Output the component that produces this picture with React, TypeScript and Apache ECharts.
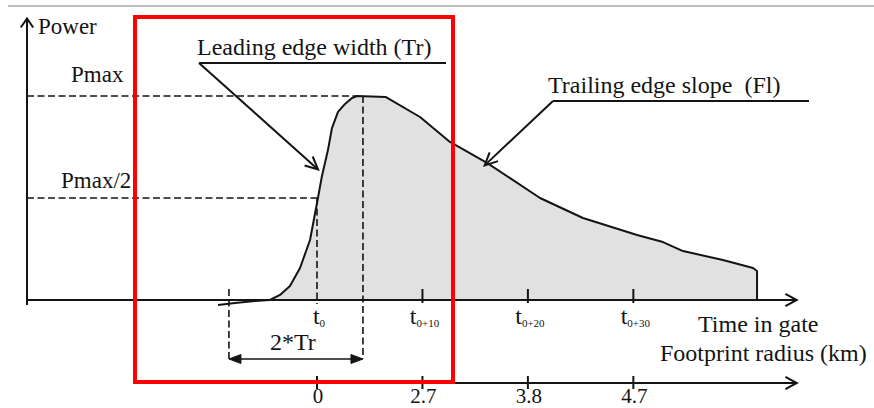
import React, { useEffect, useRef } from "react";
import * as echarts from "echarts";

// ---- data (time in gate units: t0 = 0, t0+10 = 10 ...; power normalised to Pmax = 1)
const timeTicks = [0, 10, 20, 30];
const timeSubscripts = ["0", "0+10", "0+20", "0+30"];
const radiusLabels = ["0", "2.7", "3.8", "4.7"];
const leadInT = [-9.39, -7.78, -5.88, -4.46];
const leadInP = [-0.025, -0.015, -0.005, 0];
const pulseT = [-4.46, -3.51, -2.56, -1.61, -0.66, 0.09, 0.47, 1.04, 1.42, 1.99, 2.66, 3.32, 3.79, 6.54, 9.77, 12.61, 16.12, 21.15, 25.22, 30.35, 32.81, 34.71, 38.5, 41.35, 41.73, 41.73];
const pulseP = [0, 0.025, 0.069, 0.157, 0.294, 0.5, 0.608, 0.735, 0.843, 0.922, 0.961, 0.99, 1.0, 0.995, 0.897, 0.775, 0.672, 0.5, 0.402, 0.319, 0.284, 0.24, 0.196, 0.157, 0.142, 0];
const pmax = 1;
const pmaxHalf = 0.5;
const peakStartT = 3.79;
const trRightT = 4.36;
const trLeftT = -8.35;
const xMin = -27.5;
const xMax = 45.5;
const yMin = -0.5;
const yMax = 1.38;

const FONT = '"Liberation Serif", "Times New Roman", serif';
const INK = "#141414";
const DASH = [7, 3.5];

export default function App() {
  const ref = useRef<HTMLDivElement>(null);
  useEffect(() => {
    document.body.style.margin = "0";
    const chart = echarts.init(ref.current!, null, { renderer: "svg" });
    chart.setOption({
      animation: false,
      grid: { left: 27, right: 77.2, top: 18.48, bottom: 6 },
      xAxis: { type: "value", min: xMin, max: xMax, show: false },
      yAxis: { type: "value", min: yMin, max: yMax, show: false },
      series: [
        {
          type: "line",
          data: leadInT.map((t, i) => [t, leadInP[i]]),
          showSymbol: false,
          lineStyle: { color: INK, width: 2 },
          z: 3,
        },
        {
          type: "line",
          data: pulseT.map((t, i) => [t, pulseP[i]]),
          showSymbol: false,
          lineStyle: { color: INK, width: 2 },
          areaStyle: { color: "#e1e1e1", opacity: 1 },
          z: 3,
        },
      ],
    });
    const p = (t: number, v: number) => chart.convertToPixel({ seriesIndex: 1 }, [t, v]) as number[];
    const O = p(xMin, 0);
    const yx = O[0];
    const y0 = O[1];
    const tip = p(xMin, yMax);
    const end = p(xMax, 0);
    const els: any[] = [];
    const line = (x1: number, y1: number, x2: number, y2: number, opts: any = {}) =>
      els.push({
        type: "line",
        z: 100,
        shape: { x1, y1, x2, y2 },
        style: { stroke: opts.stroke || INK, lineWidth: opts.w || 2, lineDash: opts.dash || null },
      });
    const poly = (pts: number[][], w = 2) =>
      els.push({ type: "polyline", z: 100, shape: { points: pts }, style: { stroke: INK, lineWidth: w, fill: null } });
    const tri = (pts: number[][]) =>
      els.push({ type: "polygon", z: 100, shape: { points: pts }, style: { fill: INK, stroke: INK, lineWidth: 1 } });
    const txt = (text: string, x: number, y: number, size: number, align = "left") =>
      els.push({
        type: "text",
        z: 100,
        x,
        y,
        style: { text, fill: INK, font: `${size}px ${FONT}`, align, verticalAlign: "middle" },
      });
    const chevron = (tipPt: number[], from: number[], len = 13, ang = 0.45) => {
      const dx = tipPt[0] - from[0];
      const dy = tipPt[1] - from[1];
      const L = Math.hypot(dx, dy);
      const ux = dx / L, uy = dy / L;
      const arm = (a: number) => {
        const c = Math.cos(a), s = Math.sin(a);
        const rx = ux * c - uy * s, ry = ux * s + uy * c;
        return [tipPt[0] - len * rx, tipPt[1] - len * ry];
      };
      poly([arm(ang), tipPt, arm(-ang)], 2);
    };

    // top rule
    line(8, 6, 874, 6, { stroke: "#bdbdbd", w: 2 });
    // y axis
    line(yx, y0 + 5, yx, tip[1], { w: 2 });
    chevron([yx, tip[1]], [yx, y0], 11, 0.6);
    txt("Power", yx + 11, tip[1] + 8.5, 23);
    // time axis
    line(yx, y0, end[0], end[1], { w: 2 });
    chevron(end, O, 13, 0.5);
    timeTicks.forEach((t, i) => {
      const q = p(t, 0);
      if (i > 0) line(q[0], y0 - 11, q[0], y0 + 3, { w: 2 });
      els.push({
        type: "text",
        z: 100,
        x: q[0] + 2,
        y: y0 + 16,
        style: {
          text: `{t|t}{s|${timeSubscripts[i]}}`,
          align: "center",
          verticalAlign: "middle",
          fill: INK,
          rich: {
            t: { fontSize: 24, fontFamily: FONT, fill: INK, verticalAlign: "bottom" },
            s: { fontSize: 11, fontFamily: FONT, fill: INK, verticalAlign: "bottom" },
          },
        },
      });
    });
    txt("Time in gate", 698, y0 + 23.5, 24);

    // reference dashed lines
    const pk = p(peakStartT, pmax);
    line(yx, pk[1], pk[0], pk[1], { w: 1.6, dash: DASH });
    txt("Pmax", yx + 44, pk[1] - 22, 23);
    const hf = p(timeTicks[0], pmaxHalf);
    line(yx, hf[1], hf[0], hf[1], { w: 1.6, dash: DASH });
    txt("Pmax/2", yx + 34, hf[1] - 18, 23);
    line(hf[0], hf[1], hf[0], y0 + 4, { w: 1.6, dash: DASH });
    const trR = p(trRightT, pmax);
    const trL = p(trLeftT, 0);
    const arrowY = y0 + 59;
    line(trR[0], trR[1], trR[0], arrowY, { w: 1.6, dash: DASH });
    line(trL[0], y0 - 11, trL[0], arrowY, { w: 1.6, dash: DASH });
    line(trL[0] + 6, arrowY, trR[0] - 6, arrowY, { w: 1.6 });
    tri([[trL[0], arrowY], [trL[0] + 12, arrowY - 4.5], [trL[0] + 12, arrowY + 4.5]]);
    tri([[trR[0], arrowY], [trR[0] - 12, arrowY - 4.5], [trR[0] - 12, arrowY + 4.5]]);
    txt("2*Tr", (trL[0] + trR[0]) / 2 - 3, arrowY - 17, 24, "center");

    // footprint radius axis
    const ry = y0 + 83;
    line(trL[0], ry, end[0], ry, { w: 2 });
    chevron([end[0], ry], [trL[0], ry], 13, 0.5);
    timeTicks.forEach((t, i) => {
      const q = p(t, 0);
      line(q[0], ry - 7, q[0], ry + 6, { w: 2 });
      txt(radiusLabels[i], q[0] + 1, ry + 13, 21, "center");
    });
    txt("Footprint radius (km)", 660, ry - 30, 24);

    // callouts
    txt("Leading edge width (Tr)", 197, 46.5, 24);
    line(199, 63, 446, 63, { w: 2 });
    const leadTip = p(0.1, 0.64);
    line(199, 63, leadTip[0], leadTip[1], { w: 2 });
    chevron(leadTip, [199, 63], 14, 0.45);

    txt("Trailing edge slope  (Fl)", 548, 84.5, 24);
    line(553, 101, 809, 101, { w: 2 });
    const trailTip = p(15.9, 0.66);
    line(553, 101, trailTip[0], trailTip[1], { w: 2 });
    chevron(trailTip, [553, 101], 14, 0.45);

    // red highlight box
    els.push({
      type: "rect",
      z: 200,
      shape: { x: 135, y: 17, width: 318, height: 365 },
      style: { stroke: "#ff0000", lineWidth: 4, fill: null },
    });

    chart.setOption({ graphic: { elements: els } });
    return () => chart.dispose();
  }, []);
  return <div ref={ref} style={{ width: 874, height: 408 }} />;
}
